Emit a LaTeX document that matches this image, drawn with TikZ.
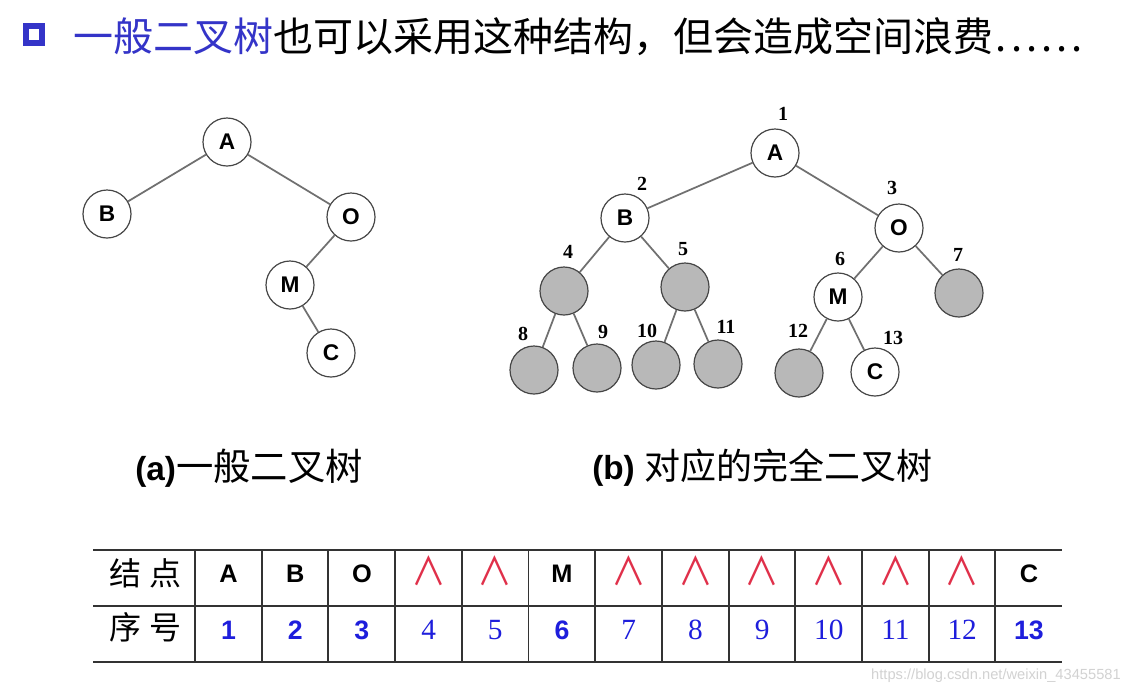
\documentclass[tikz,border=0pt]{standalone}
\usepackage{fontspec}
\setmainfont{Liberation Serif}
\newfontfamily\cjk{Noto Sans CJK SC}
\newfontfamily\arial{Liberation Sans}
\definecolor{tblue}{HTML}{3434C8}
\definecolor{nblue}{HTML}{1E1EDC}
\definecolor{wred}{HTML}{E0304A}
\definecolor{edgegray}{HTML}{707070}
\definecolor{nodefill}{HTML}{B8B8B8}
\definecolor{rulegray}{HTML}{333333}
\newcommand{\wdg}{\scalebox{0.9}[1]{∧}}
\begin{document}
\begin{tikzpicture}[x=0.75pt,y=-0.75pt,
  tn/.style={circle, draw=gray!55!black, line width=0.9pt, fill=white, minimum size=36pt, inner sep=0pt,
    font=\arial\bfseries\fontsize{17}{17}\selectfont},
  gn/.style={tn, fill=nodefill},
  treeedge/.style={draw=edgegray, line width=1.3pt},
  idxlbl/.style={inner sep=0pt, font=\bfseries\fontsize{15}{15}\selectfont},
  captxt/.style={anchor=west, inner sep=0pt},
  tabrule/.style={draw=rulegray, line width=1.4pt},
  letcell/.style={inner sep=0pt, font=\arial\bfseries\fontsize{19}{19}\selectfont},
  wedgecell/.style={inner sep=0pt, text=wred, font=\cjk\fontsize{29}{29}\selectfont},
  bnum/.style={inner sep=0pt, text=nblue, font=\arial\bfseries\fontsize{20}{20}\selectfont},
  snum/.style={inner sep=0pt, text=nblue, font=\fontsize{22}{22}\selectfont},
  rowlbl/.style={inner sep=0pt, font=\cjk\fontsize{24}{24}\selectfont}
]
\useasboundingbox (0,0) rectangle (1127,693);
\fill[white] (0,0) rectangle (1127,693);

% title
\draw[tblue, line width=4.5pt] (26,26) rectangle (42,43);
\node[captxt] (title) at (73,37) {\cjk\fontsize{30}{30}\selectfont\textcolor{tblue}{一般二叉树}也可以采用这种结构，但会造成空间浪费\kern2pt.\kern3pt.\kern3pt.\kern3pt.\kern3pt.\kern3pt.};

% left tree
\node[tn] (a1) at (227,142) {A};
\node[tn] (b1) at (107,214) {B};
\node[tn] (o1) at (351,217) {O};
\node[tn] (m1) at (290,285) {M};
\node[tn] (c1) at (331,353) {C};
\draw[treeedge] (a1) -- (b1);
\draw[treeedge] (a1) -- (o1);
\draw[treeedge] (o1) -- (m1);
\draw[treeedge] (m1) -- (c1);

% right tree
\node[tn] (a2) at (775,153) {A};
\node[tn] (b2) at (625,218) {B};
\node[tn] (o2) at (899,228) {O};
\node[gn] (n4) at (564,291) {};
\node[gn] (n5) at (685,287) {};
\node[tn] (m2) at (838,297) {M};
\node[gn] (n7) at (959,293) {};
\node[gn] (n8) at (534,370) {};
\node[gn] (n9) at (597,368) {};
\node[gn] (n10) at (656,365) {};
\node[gn] (n11) at (718,364) {};
\node[gn] (n12) at (799,373) {};
\node[tn] (c2) at (875,372) {C};
\draw[treeedge] (a2) -- (b2);
\draw[treeedge] (a2) -- (o2);
\draw[treeedge] (b2) -- (n4);
\draw[treeedge] (b2) -- (n5);
\draw[treeedge] (o2) -- (m2);
\draw[treeedge] (o2) -- (n7);
\draw[treeedge] (n4) -- (n8);
\draw[treeedge] (n4) -- (n9);
\draw[treeedge] (n5) -- (n10);
\draw[treeedge] (n5) -- (n11);
\draw[treeedge] (m2) -- (n12);
\draw[treeedge] (m2) -- (c2);

% index labels
\node[idxlbl] (l1) at (783,114) {1};
\node[idxlbl] (l2) at (642,184) {2};
\node[idxlbl] (l3) at (892,188) {3};
\node[idxlbl] (l4) at (568,252) {4};
\node[idxlbl] (l5) at (683,249) {5};
\node[idxlbl] (l6) at (840,259) {6};
\node[idxlbl] (l7) at (958,255) {7};
\node[idxlbl] (l8) at (523,334) {8};
\node[idxlbl] (l9) at (603,332) {9};
\node[idxlbl] (l10) at (647,331) {10};
\node[idxlbl] (l11) at (726,327) {11};
\node[idxlbl] (l12) at (798,331) {12};
\node[idxlbl] (l13) at (893,338) {13};

% captions
\node[captxt] (capa) at (135,468) {\arial\bfseries\fontsize{25}{25}\selectfont(a)\cjk\mdseries\fontsize{28}{28}\selectfont 一般二叉树};
\node[captxt] (capb) at (592,468) {\arial\bfseries\fontsize{25}{25}\selectfont(b) \cjk\mdseries\fontsize{27}{27}\selectfont 对应的完全二叉树};

% table
\draw[tabrule] (93,550) -- (1062,550);
\draw[tabrule] (93,606) -- (1062,606);
\draw[tabrule] (93,662) -- (1062,662);
\foreach \k in {0,...,12} {
  \draw[tabrule] ({195+\k*66.7},550) -- ({195+\k*66.7},662);
}
\node[rowlbl] (r1) at (145,573) {结\hspace{6pt}点};
\node[rowlbl] (r2) at (145,627) {序\hspace{6pt}号};

\node[letcell] (e1) at (228.5,574) {A};
\node[letcell] (e2) at (295.2,574) {B};
\node[letcell] (e3) at (361.9,574) {O};
\node[wedgecell] (e4) at (428.6,571) {\wdg};
\node[wedgecell] (e5) at (495.3,571) {\wdg};
\node[letcell] (e6) at (562.0,574) {M};
\node[wedgecell] (e7) at (628.7,571) {\wdg};
\node[wedgecell] (e8) at (695.4,571) {\wdg};
\node[wedgecell] (e9) at (762.1,571) {\wdg};
\node[wedgecell] (e10) at (828.8,571) {\wdg};
\node[wedgecell] (e11) at (895.5,571) {\wdg};
\node[wedgecell] (e12) at (962.2,571) {\wdg};
\node[letcell] (e13) at (1028.9,574) {C};

\node[bnum] (s1) at (228.5,630) {1};
\node[bnum] (s2) at (295.2,630) {2};
\node[bnum] (s3) at (361.9,630) {3};
\node[snum] (s4) at (428.6,630) {4};
\node[snum] (s5) at (495.3,630) {5};
\node[bnum] (s6) at (562.0,630) {6};
\node[snum] (s7) at (628.7,630) {7};
\node[snum] (s8) at (695.4,630) {8};
\node[snum] (s9) at (762.1,630) {9};
\node[snum] (s10) at (828.8,630) {10};
\node[snum] (s11) at (895.5,630) {11};
\node[snum] (s12) at (962.2,630) {12};
\node[bnum] (s13) at (1028.9,630) {13};

% watermark
\node[anchor=east, inner sep=0pt, text=gray!35, font=\arial\fontsize{11}{11}\selectfont] (wm) at (1121,676) {https://blog.csdn.net/weixin\_43455581};
\end{tikzpicture}
\end{document}
